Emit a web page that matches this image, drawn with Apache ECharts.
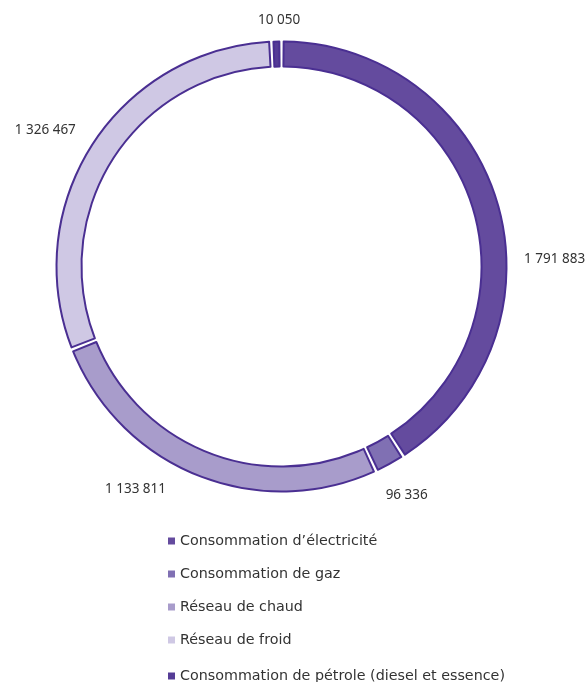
<!DOCTYPE html>
<html>
<head>
<meta charset="utf-8">
<script src="https://cdn.jsdelivr.net/npm/echarts@6/dist/echarts.min.js"></script>
<style>
html,body{margin:0;padding:0;background:#fff;}
#chart{width:587px;height:682px;}
</style>
</head>
<body>
<div id="chart"></div>
<script>
const categories = [
  "Consommation d\u2019électricité",
  "Consommation de gaz",
  "Réseau de chaud",
  "Réseau de froid",
  "Consommation de pétrole (diesel et essence)"
];
const values = [1791883, 96336, 1133811, 1326467, 10050];
const valueLabels = ["1 791 883", "96 336", "1 133 811", "1 326 467", "10 050"];
const colors = ["#644b9e", "#8070b3", "#a89ccb", "#cfc8e4", "#553c96"];

// fine label nudges (dx, dy) relative to the library's outside label placement
const labelNudge = [[10, 58], [-17, 24], [-20, 6], [-1, -10], [33, -13]];

const chart = echarts.init(document.getElementById('chart'), null, {renderer: 'canvas'});
const data = categories.map((c, i) => ({
  name: c,
  value: values[i],
  itemStyle: {color: colors[i]},
  label: {formatter: valueLabels[i]}
}));

const legendText = {fontFamily: 'DejaVu Sans', fontSize: 14.3, color: '#333'};
chart.setOption({
  animation: false,
  legend: [{
    orient: 'vertical',
    left: 163,
    top: 529,
    itemWidth: 7,
    itemHeight: 7,
    itemGap: 19,
    icon: 'rect',
    itemStyle: {borderWidth: 0},
    textStyle: legendText,
    data: categories.slice(0, 4)
  }, {
    orient: 'vertical',
    left: 163,
    top: 664,
    itemWidth: 7,
    itemHeight: 7,
    icon: 'rect',
    itemStyle: {borderWidth: 0},
    textStyle: legendText,
    data: categories.slice(4)
  }],
  series: [{
    type: 'pie',
    center: [281.5, 266.5],
    radius: [200, 225],
    startAngle: 90,
    clockwise: true,
    padAngle: 1.1,
    minAngle: 1.5,
    avoidLabelOverlap: false,
    itemStyle: {borderColor: '#4a2f92', borderWidth: 2},
    label: {
      show: true,
      position: 'outside',
      fontFamily: 'Noto Sans',
      fontSize: 13.5,
      color: '#333'
    },
    labelLine: {show: false, length: 8, length2: 4},
    labelLayout: function (p) {
      const n = labelNudge[p.dataIndex];
      return {dx: n[0], dy: n[1]};
    },
    emphasis: {disabled: true},
    data: data
  }]
});
</script>
</body>
</html>
